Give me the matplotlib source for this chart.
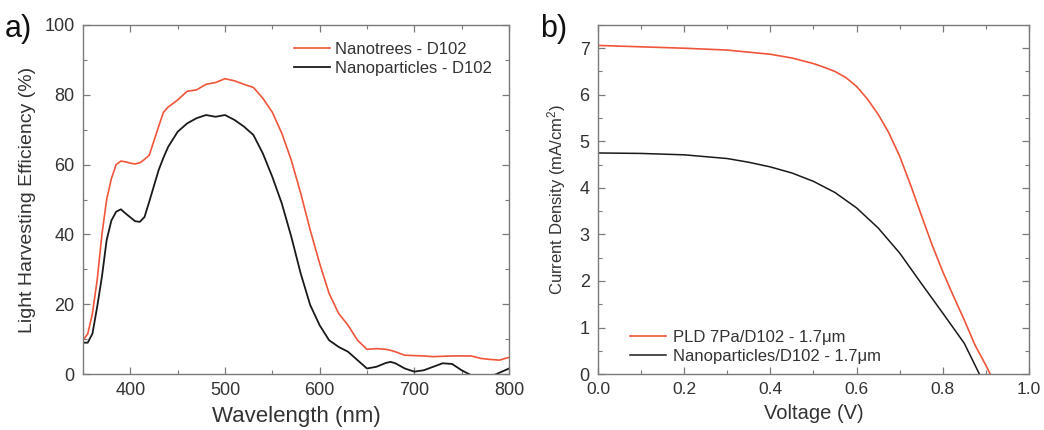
import matplotlib
matplotlib.use("Agg")
import matplotlib.pyplot as plt
from matplotlib.ticker import MultipleLocator

plt.rcParams['font.family'] = ['Liberation Sans', 'DejaVu Sans']
plt.rcParams['mathtext.fontset'] = 'custom'
plt.rcParams['mathtext.rm'] = 'Liberation Sans'
plt.rcParams['mathtext.it'] = 'Liberation Sans:italic'

# Panel a data
wl = [350, 355, 360, 365, 370, 375, 380, 385, 390, 395, 400, 405, 410, 415, 420, 430, 435, 440,
      450, 460, 470, 480, 490, 500, 510, 520, 530, 540, 550, 560, 570, 580, 590, 600,
      610, 620, 630, 640, 650, 660, 670, 675, 680, 690, 700, 710, 720, 730, 740, 750,
      760, 770, 780, 790, 800]
lhe_nanotrees = [9.7, 11.5, 17.4, 27.0, 40.0, 50.0, 56.0, 60.0, 61.0, 60.8, 60.4, 60.2, 60.5, 61.5, 62.7,
                 71.0, 75.0, 76.5, 78.5, 81.0, 81.4, 83.0, 83.5, 84.6, 84.0, 83.0, 82.1, 79.0, 75.0,
                 69.0, 61.3, 51.8, 41.3, 31.7, 23.1, 17.4, 14.0, 9.7, 7.1, 7.3, 7.1, 6.8, 6.4, 5.4,
                 5.3, 5.2, 5.0, 5.1, 5.2, 5.2, 5.2, 4.5, 4.2, 4.0, 4.8]
lhe_nanoparticles = [9.0, 9.0, 11.6, 19.3, 27.9, 38.4, 44.0, 46.5, 47.2, 46.0, 44.9, 43.8, 43.6, 45.0,
                     49.4, 58.5, 62.0, 65.1, 69.4, 71.8, 73.3, 74.2, 73.7, 74.2, 72.8, 70.9, 68.5,
                     63.2, 56.5, 48.9, 39.4, 28.8, 19.8, 14.0, 9.7, 7.8, 6.4, 4.0, 1.6, 2.1, 3.2,
                     3.5, 3.1, 1.6, 0.7, 1.1, 2.1, 3.1, 2.9, 1.1, -0.3, -1.2, -0.8, 0.4, 1.6]

# Panel b data
v_pld = [0.0, 0.1, 0.2, 0.3, 0.4, 0.45, 0.5, 0.525, 0.55, 0.575, 0.6, 0.625, 0.65, 0.675, 0.7,
         0.725, 0.75, 0.775, 0.8, 0.825, 0.85, 0.875, 0.9, 0.91]
j_pld = [7.06, 7.03, 7.00, 6.96, 6.87, 6.79, 6.67, 6.59, 6.50, 6.37, 6.18, 5.91, 5.58, 5.18, 4.68,
         4.07, 3.42, 2.78, 2.20, 1.67, 1.16, 0.62, 0.19, 0.0]
v_np = [0.0, 0.1, 0.2, 0.3, 0.35, 0.4, 0.45, 0.5, 0.55, 0.6, 0.65, 0.7, 0.75, 0.8, 0.85, 0.885]
j_np = [4.75, 4.74, 4.71, 4.63, 4.55, 4.45, 4.32, 4.14, 3.90, 3.57, 3.14, 2.60, 1.95, 1.31, 0.66, 0.0]

RED = '#f0553a'
BLACK = '#1a1a1a'
SPINE = '#7a7a7a'
TXT = '#333333'

fig = plt.figure(figsize=(10.44, 4.30), dpi=100)
axa = fig.add_axes([0.0795, 0.130, 0.408, 0.812])
axb = fig.add_axes([0.5728, 0.130, 0.4128, 0.812])

def style(ax):
    for s in ax.spines.values():
        s.set_color(SPINE)
        s.set_linewidth(1.0)
    ax.tick_params(which='both', direction='in', top=True, right=True, color=SPINE,
                   labelcolor=TXT)
    ax.tick_params(which='major', length=5, width=0.9, labelsize=13, pad=6)
    ax.tick_params(which='minor', length=3, width=0.8)

axa.plot(wl, lhe_nanotrees, color=RED, lw=1.2, label='Nanotrees - D102')
axa.plot(wl, lhe_nanoparticles, color=BLACK, lw=1.3, label='Nanoparticles - D102')
axa.set_xlim(350, 800)
axa.set_ylim(0, 100)
axa.xaxis.set_major_locator(MultipleLocator(100))
axa.xaxis.set_minor_locator(MultipleLocator(50))
axa.yaxis.set_major_locator(MultipleLocator(20))
axa.yaxis.set_minor_locator(MultipleLocator(10))
style(axa)
axa.set_xlabel('Wavelength (nm)', fontsize=16, color=TXT, labelpad=5)
axa.set_ylabel('Light Harvesting Efficiency (%)', fontsize=14, color=TXT, labelpad=6)
axa.legend(loc='upper right', frameon=False, fontsize=12, handlelength=2.2,
           handletextpad=0.3, labelspacing=0.25, borderaxespad=0.6,
           labelcolor=TXT)

axb.plot(v_pld, j_pld, color=RED, lw=1.2, label='PLD 7Pa/D102 - 1.7\u03bcm')
axb.plot(v_np, j_np, color=BLACK, lw=1.1, label='Nanoparticles/D102 - 1.7\u03bcm')
axb.set_xlim(0, 1.0)
axb.set_ylim(0, 7.5)
axb.set_xticks([0, 0.2, 0.4, 0.6, 0.8, 1.0])
axb.set_xticklabels(['0.0', '0.2', '0.4', '0.6', '0.8', '1.0'])
axb.xaxis.set_minor_locator(MultipleLocator(0.1))
axb.yaxis.set_major_locator(MultipleLocator(1))
axb.yaxis.set_minor_locator(MultipleLocator(0.5))
style(axb)
axb.tick_params(axis='x', labelsize=12.5)
axb.set_xlabel('Voltage (V)', fontsize=14.5, color=TXT, labelpad=5)
axb.set_ylabel(r'Current Density (mA/cm$^2$)', fontsize=12, color=TXT, labelpad=8)
axb.legend(loc='lower left', frameon=False, fontsize=12, handlelength=2.2,
           handletextpad=0.4, labelspacing=0.25, borderaxespad=0.2,
           bbox_to_anchor=(0.05, 0.0), labelcolor=TXT)

fig.text(0.005, 0.968, 'a)', fontsize=22, va='top', ha='left', color='#111111')
fig.text(0.517, 0.968, 'b)', fontsize=22, va='top', ha='left', color='#111111')

fig.savefig('out.png', dpi=100)
